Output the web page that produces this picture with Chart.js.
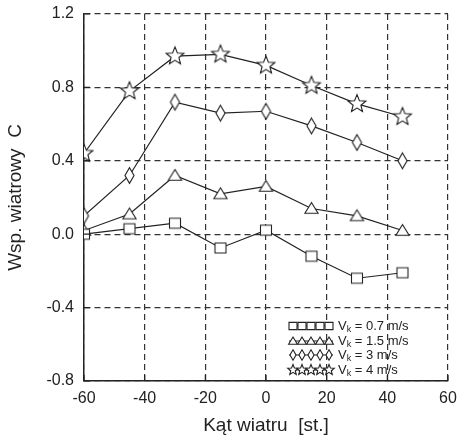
<!DOCTYPE html>
<html>
<head>
<meta charset="utf-8">
<script src="https://cdn.jsdelivr.net/npm/chart.js@4"></script>
<style>
  html, body { margin: 0; padding: 0; background: #fff; }
  #wrap { width: 462px; height: 441px; }
</style>
</head>
<body>
<div id="wrap"><canvas id="chart" width="462" height="441"></canvas></div>
<script>
const angles = [-60, -45, -30, -15, 0, 15, 30, 45];
const speedLabels = ["0.7", "1.5", "3", "4"];
const cSquare = [0.0, 0.03, 0.06, -0.075, 0.022, -0.12, -0.24, -0.21];
const cTriangle = [0.02, 0.11, 0.32, 0.22, 0.26, 0.14, 0.10, 0.02];
const cDiamond = [0.10, 0.32, 0.72, 0.66, 0.67, 0.59, 0.50, 0.40];
const cStar = [0.44, 0.78, 0.97, 0.98, 0.92, 0.81, 0.71, 0.64];
const xTicks = [-60, -40, -20, 0, 20, 40, 60];
const yTicks = [-0.8, -0.4, 0.0, 0.4, 0.8, 1.2];

const ink = "#222";
const font = "'Liberation Sans', Arial, sans-serif";

function shapePath(ctx, type, x, y, s) {
  ctx.beginPath();
  if (type === "square") {
    ctx.rect(x - s * 0.5, y - s * 0.45, s, s * 0.9);
  } else if (type === "triangle") {
    ctx.moveTo(x, y - s * 0.5);
    ctx.lineTo(x + s * 0.55, y + s * 0.4);
    ctx.lineTo(x - s * 0.55, y + s * 0.4);
    ctx.closePath();
  } else if (type === "diamond") {
    ctx.moveTo(x, y - s * 0.65);
    ctx.lineTo(x + s * 0.38, y);
    ctx.lineTo(x, y + s * 0.65);
    ctx.lineTo(x - s * 0.38, y);
    ctx.closePath();
  } else {
    const ro = s * 0.55, ri = s * 0.24;
    for (let i = 0; i < 10; i++) {
      const r = i % 2 === 0 ? ro : ri;
      const a = -Math.PI / 2 + i * Math.PI / 5;
      const px = x + r * Math.cos(a), py = y + r * Math.sin(a);
      if (i === 0) ctx.moveTo(px, py); else ctx.lineTo(px, py);
    }
    ctx.closePath();
  }
  ctx.fillStyle = "#fff";
  ctx.fill();
  ctx.strokeStyle = ink;
  ctx.lineWidth = 1.1;
  ctx.stroke();
}

function markerCanvas(type, s) {
  const c = document.createElement("canvas");
  c.width = Math.ceil(s * 1.4) + 2;
  c.height = Math.ceil(s * 1.4) + 2;
  shapePath(c.getContext("2d"), type, c.width / 2, c.height / 2, s);
  return c;
}

const series = [
  { data: cSquare, type: "square", size: 11 },
  { data: cTriangle, type: "triangle", size: 12 },
  { data: cDiamond, type: "diamond", size: 12 },
  { data: cStar, type: "star", size: 17 }
];

const legendPlugin = {
  id: "speedLegend",
  afterDraw(chart) {
    const ctx = chart.ctx;
    const rows = [326, 341, 355, 370];
    ctx.save();
    series.forEach((s, i) => {
      const y = rows[i];
      ctx.strokeStyle = ink;
      ctx.lineWidth = 1;
      ctx.beginPath();
      ctx.moveTo(289, y);
      ctx.lineTo(333, y);
      ctx.stroke();
      for (let k = 0; k < 5; k++) {
        shapePath(ctx, s.type, 293 + k * 9, y, s.type === "star" ? 10 : 8);
      }
      ctx.fillStyle = ink;
      ctx.textBaseline = "middle";
      ctx.textAlign = "left";
      ctx.font = "13px " + font;
      ctx.fillText("V", 338, y);
      const vw = ctx.measureText("V").width;
      ctx.font = "9px " + font;
      ctx.fillText("k", 338 + vw, y + 4);
      const kw = ctx.measureText("k").width;
      ctx.font = "13px " + font;
      ctx.fillText(" = " + speedLabels[i] + " m/s", 338 + vw + kw, y);
    });
    ctx.restore();
  }
};

// short inward tick marks along the left and bottom axes
const innerTicks = {
  id: "innerTicks",
  afterDatasetsDraw(chart) {
    const { ctx, chartArea: a, scales } = chart;
    ctx.save();
    ctx.strokeStyle = ink;
    ctx.lineWidth = 1.2;
    ctx.beginPath();
    xTicks.forEach((v) => {
      const x = scales.x.getPixelForValue(v);
      ctx.moveTo(x, a.bottom);
      ctx.lineTo(x, a.bottom - 6);
    });
    yTicks.forEach((v) => {
      const y = scales.y.getPixelForValue(v);
      ctx.moveTo(a.left, y);
      ctx.lineTo(a.left + 6, y);
    });
    ctx.stroke();
    ctx.restore();
  }
};

new Chart(document.getElementById("chart").getContext("2d"), {
  type: "line",
  data: {
    datasets: series.map((s) => ({
      data: angles.map((a, i) => ({ x: a, y: s.data[i] })),
      borderColor: ink,
      borderWidth: 1.2,
      backgroundColor: "#fff",
      pointStyle: markerCanvas(s.type, s.size),
      pointRadius: 6,
      tension: 0
    }))
  },
  options: {
    responsive: false,
    animation: false,
    layout: { padding: { top: 14, right: 14, left: 0, bottom: 0 } },
    plugins: { legend: { display: false }, tooltip: { enabled: false } },
    scales: {
      x: {
        type: "linear",
        min: -60,
        max: 60,
        afterBuildTicks(scale) { scale.ticks = xTicks.map((v) => ({ value: v })); },
        afterFit(scale) {
          scale.height = 60;
          scale.paddingLeft = 0;
          scale.paddingRight = 0;
        },
        grid: { color: "#333", lineWidth: 1.2, drawTicks: false },
        border: { display: true, color: ink, width: 1.5, dash: [6, 4] },
        ticks: {
          color: ink,
          padding: 8,
          font: { size: 16, family: font },
          callback: (v) => String(v)
        },
        title: {
          display: true,
          text: "Kąt wiatru  [st.]",
          color: ink,
          padding: { top: 4 },
          font: { size: 19, family: font }
        }
      },
      y: {
        type: "linear",
        min: -0.8,
        max: 1.2,
        afterBuildTicks(scale) { scale.ticks = yTicks.map((v) => ({ value: v })); },
        afterFit(scale) {
          scale.width = 84;
          scale.paddingTop = 0;
          scale.paddingBottom = 0;
        },
        grid: { color: "#333", lineWidth: 1.2, drawTicks: false },
        border: { display: true, color: ink, width: 1.5, dash: [6, 4] },
        ticks: {
          color: ink,
          padding: 10,
          font: { size: 16, family: font },
          callback: (v) => v.toFixed(1)
        },
        title: {
          display: true,
          text: "Wsp. wiatrowy  C",
          color: ink,
          padding: { bottom: 2 },
          font: { size: 19, family: font }
        }
      }
    }
  },
  plugins: [legendPlugin, innerTicks]
});
</script>
</body>
</html>
